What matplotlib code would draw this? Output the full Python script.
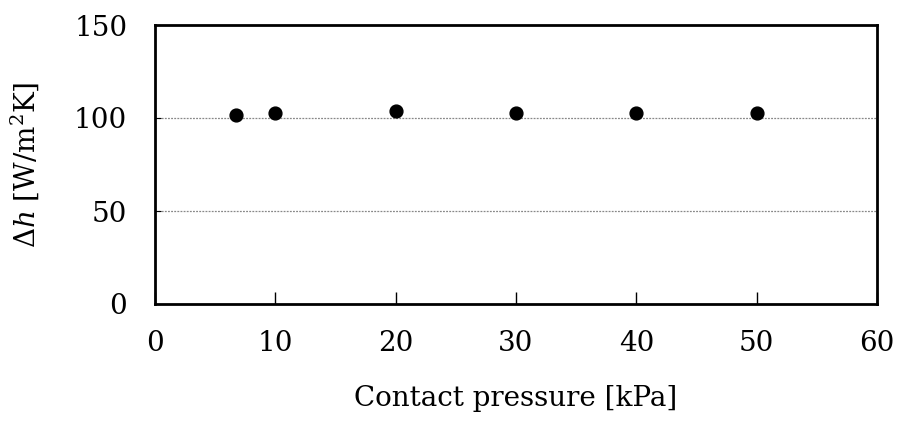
import matplotlib
matplotlib.use("Agg")
import matplotlib.pyplot as plt

pressure = [6.7, 10, 20, 30, 40, 50]
delta_h = [101.4, 102.7, 103.8, 102.9, 102.9, 102.5]
xticks = [0, 10, 20, 30, 40, 50, 60]
yticks = [0, 50, 100, 150]

plt.rcParams['font.family'] = ['DejaVu Serif']
plt.rcParams['mathtext.fontset'] = 'dejavuserif'

fig = plt.figure(figsize=(8.99, 4.26), dpi=100)
ax = fig.add_axes([155/899, 1 - 304/426, (877-155)/899, (304-25)/426])

ax.scatter(pressure, delta_h, s=85, color='black', zorder=3)
ax.set_xlim(0, 60)
ax.set_ylim(0, 150)
ax.set_xticks(xticks)
ax.set_yticks(yticks)
for y in [50, 100]:
    ax.axhline(y, color='#888888', lw=0.9, ls=(0, (1.5, 1)), zorder=1)

for s in ax.spines.values():
    s.set_linewidth(2)
ax.tick_params(axis='x', direction='in', length=9, width=1, pad=19, labelsize=20)
ax.tick_params(axis='y', direction='in', length=4, width=0.8, pad=20, labelsize=20)

ax.set_xlabel('Contact pressure [kPa]', fontsize=20, labelpad=20)
ax.set_ylabel(r'$\Delta h$ [W/m$^2$K]', fontsize=20, labelpad=24)

fig.savefig('out.png', dpi=100)
